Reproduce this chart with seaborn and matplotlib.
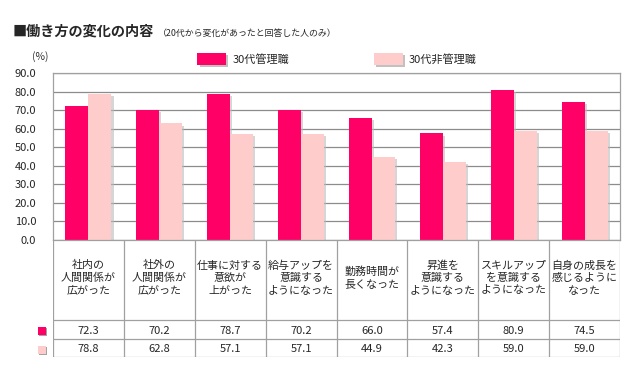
import matplotlib
matplotlib.use("Agg")
import matplotlib.pyplot as plt
import matplotlib.patheffects as pe
from matplotlib.patches import Rectangle
import numpy as np
import pandas as pd
import seaborn as sns

# ==================================================
# DATA
# ==================================================

categories = [
    "社内の\n人間関係が\n広がった",
    "社外の\n人間関係が\n広がった",
    "仕事に対する\n意欲が\n上がった",
    "給与アップを\n意識する\nようになった",
    "勤務時間が\n長くなった",
    "昇進を\n意識する\nようになった",
    "スキルアップ\nを意識する\nようになった",
    "自身の成長を\n感じるように\nなった",
]
series_names = ["30代管理職", "30代非管理職"]
manager = [72.3, 70.2, 78.7, 70.2, 66.0, 57.4, 80.9, 74.5]
non_manager = [78.8, 62.8, 57.1, 57.1, 44.9, 42.3, 59.0, 59.0]
y_ticks = [0, 10, 20, 30, 40, 50, 60, 70, 80, 90]

colors = ["#FF0066", "#FFCCCC"]

# ==================================================
# STYLE
# ==================================================

sns.set_style("white")
plt.rcParams["font.family"] = ["Noto Sans CJK JP", "DejaVu Sans"]

df = pd.DataFrame({
    "cat": categories * 2,
    "series": [series_names[0]] * len(categories) + [series_names[1]] * len(categories),
    "value": manager + non_manager,
})

W, H = 640, 370
fig = plt.figure(figsize=(W / 100, H / 100), dpi=100)

left, right = 53 / W, 620 / W
ax = fig.add_axes([left, 1 - 240 / H, right - left, (240 - 73) / H])

sns.barplot(
    data=df, x="cat", y="value", hue="series",
    palette=colors, width=0.65, saturation=1, ax=ax,
    legend=False, edgecolor="none"
)

for bar in ax.patches:
    bar.set_path_effects([
        pe.SimplePatchShadow(offset=(1.5, -1.5), shadow_rgbFace="#bbbbbb", alpha=0.6),
        pe.Normal(),
    ])

ax.set_ylim(0, 90)
ax.set_xlim(-0.5, len(categories) - 0.5)
ax.set_yticks(y_ticks)
ax.set_yticklabels([f"{v:.1f}" for v in y_ticks], fontsize=8)
ax.set_xticks([])
ax.set_xlabel("")
ax.set_ylabel("")
ax.tick_params(axis="y", length=0, pad=12)
ax.yaxis.grid(True, color="#8c8c8c", linewidth=0.9)
ax.set_axisbelow(True)
for s in ax.spines.values():
    s.set_color("#a0a0a0")
    s.set_linewidth(0.9)

fig.text(40 / W, 1 - 57 / H, "(%)", fontsize=7.5, ha="center", va="center", color="#333333")

# ==================================================
# TITLE & LEGEND
# ==================================================

fig.text(13 / W, 1 - 32 / H, "■働き方の変化の内容", fontsize=10.2, fontweight="bold",
         ha="left", va="center")
fig.text(158 / W, 1 - 33 / H, "（20代から変化があったと回答した人のみ）", fontsize=6.4,
         ha="left", va="center")

handles = [Rectangle((0, 0), 1, 1, facecolor=c, edgecolor="none",
                     path_effects=[pe.SimplePatchShadow(offset=(1.5, -1.5), shadow_rgbFace="#999999", alpha=0.6),
                                   pe.Normal()])
           for c in colors]
fig.legend(handles, series_names, loc="center", bbox_to_anchor=(337 / W, 1 - 59 / H),
           ncol=2, frameon=False, fontsize=8, handlelength=2.6, handleheight=1.2,
           columnspacing=7.6, handletextpad=0.55)

# ==================================================
# DATA TABLE
# ==================================================

tab = fig.add_axes([left, 1 - 357 / H, right - left, (357 - 240) / H])
tab.set_xlim(-0.5, len(categories) - 0.5)
tab.set_ylim(357, 240)
tab.axis("off")

line_kw = dict(color="#a0a0a0", linewidth=0.9)
for b in np.arange(len(categories) + 1) - 0.5:
    tab.plot([b, b], [240, 357], **line_kw)
for yy in [320, 339, 357]:
    tab.plot([-0.5, len(categories) - 0.5], [yy, yy], **line_kw)

for i, label in enumerate(categories):
    tab.text(i, 278, label, ha="center", va="center", fontsize=7.9, linespacing=1.3)
    tab.text(i, 330.5, f"{manager[i]:.1f}", ha="center", va="center", fontsize=8)
    tab.text(i, 349, f"{non_manager[i]:.1f}", ha="center", va="center", fontsize=8)

for c, yc in zip(colors, [331, 350]):
    fig.patches.append(Rectangle((38 / W, 1 - (yc + 4) / H), 8 / W, 8 / H,
                                 transform=fig.transFigure, facecolor=c, edgecolor="none",
                                 path_effects=[pe.SimplePatchShadow(offset=(1, -1), shadow_rgbFace="#666666", alpha=0.6),
                                               pe.Normal()]))

plt.savefig("out.png", dpi=100)
